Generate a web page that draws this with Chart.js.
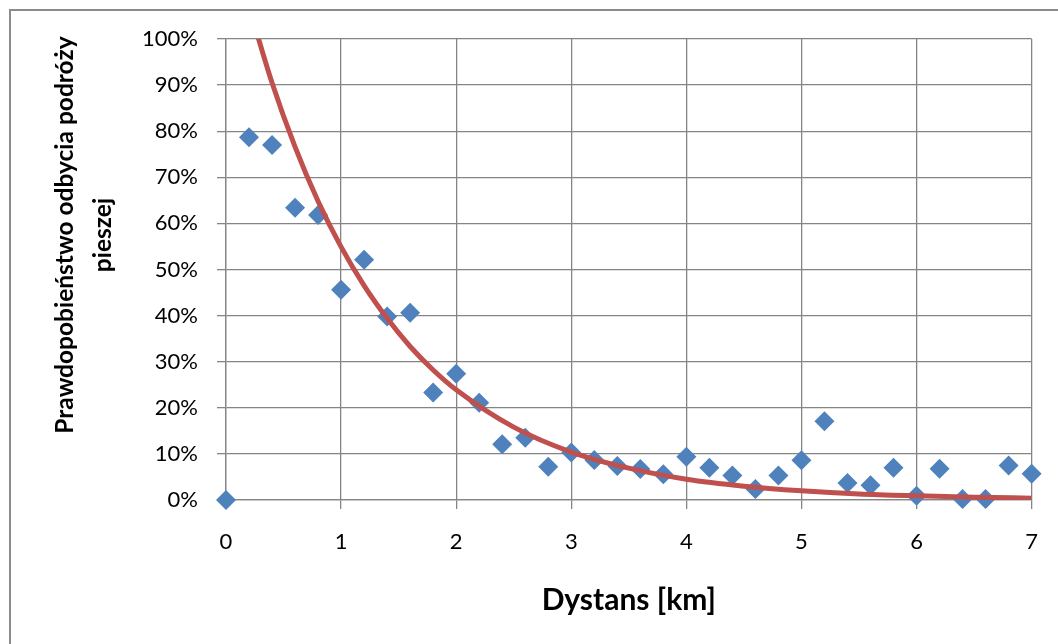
<!DOCTYPE html>
<html>
<head>
<meta charset="utf-8">
<script src="https://cdn.jsdelivr.net/npm/chart.js@4.4.0/dist/chart.umd.min.js"></script>
<style>
    html, body { margin: 0; padding: 0; background: #fff; }
</style>
</head>
<body>
<canvas id="myChart" width="1058" height="644"></canvas>
<script>
// distance [km] and share of trips made on foot [%]
const distances = [0, 0.2, 0.4, 0.6, 0.8, 1, 1.2, 1.4, 1.6, 1.8, 2, 2.2, 2.4, 2.6, 2.8, 3, 3.2, 3.4,
    3.6, 3.8, 4, 4.2, 4.4, 4.6, 4.8, 5, 5.2, 5.4, 5.6, 5.8, 6, 6.2, 6.4, 6.6, 6.8, 7];
const walkShare = [0, 78.7, 77, 63.4, 61.8, 45.6, 52.1, 39.8, 40.6, 23.3, 27.4, 21.1, 12.1, 13.5, 7.2, 10.3, 8.7, 7.4,
    6.7, 5.6, 9.4, 7, 5.3, 2.4, 5.3, 8.6, 17.1, 3.7, 3.2, 7, 0.9, 6.8, 0.2, 0.2, 7.5, 5.7];

// trend line (exponential)
const trendX = [0.2, 0.4, 0.6, 0.8, 1, 1.2, 1.4, 1.6, 1.8, 2, 2.5, 3, 3.5, 4, 4.5, 5, 5.5, 6, 6.5, 7];
const trendY = [107, 90.5, 76.6, 64.8, 54.9, 46.5, 39.4, 33.3, 28.2, 23.9, 15.8, 10.4, 6.9, 4.5, 3.0, 2.0, 1.3, 0.9, 0.6, 0.4];

const xTicks = [0, 1, 2, 3, 4, 5, 6, 7];
const yTicks = [0, 10, 20, 30, 40, 50, 60, 70, 80, 90, 100];

const gridColor = '#858585';

const frame = {
    id: 'frame',
    beforeDraw(chart) {
        const c = chart.ctx;
        c.save();
        c.strokeStyle = '#8c8c8c';
        c.lineWidth = 2;
        c.strokeRect(10, 10, 1200, 800);
        c.restore();
    }
};

// axis titles drawn by hand so they sit where the original ones are
const axisTitles = {
    id: 'axisTitles',
    afterDraw(chart) {
        const c = chart.ctx;
        const area = chart.chartArea;
        c.save();
        c.fillStyle = '#000';
        c.textAlign = 'center';
        c.textBaseline = 'middle';
        c.font = 'bold 30px Lato';
        c.fillText('Dystans [km]', (area.left + area.right) / 2, 600);
        c.translate(0, 235);
        c.rotate(-Math.PI / 2);
        c.font = 'bold 24.5px Lato';
        c.fillText('Prawdopobieństwo odbycia podróży', 0, 65);
        c.fillText('pieszej', 0, 103);
        c.restore();
    }
};

const ctx = document.getElementById('myChart');

new Chart(ctx, {
    type: 'scatter',
    data: {
        datasets: [
            {
                label: 'trend',
                type: 'line',
                data: trendX.map((x, i) => ({ x: x, y: trendY[i] })),
                borderColor: '#C0504D',
                borderWidth: 5,
                pointRadius: 0,
                cubicInterpolationMode: 'monotone',
                fill: false,
                clip: 0,
                order: 0
            },
            {
                label: 'udział',
                data: distances.map((x, i) => ({ x: x, y: walkShare[i] })),
                pointStyle: 'rectRot',
                pointRadius: 10,
                pointHoverRadius: 10,
                backgroundColor: '#4F81BD',
                borderColor: '#4F81BD',
                borderWidth: 0,
                clip: false,
                order: 1
            }
        ]
    },
    options: {
        responsive: false,
        animation: false,
        layout: {
            padding: { top: 39, right: 26, left: 0, bottom: 0 }
        },
        plugins: {
            legend: { display: false },
            tooltip: { enabled: false }
        },
        scales: {
            x: {
                type: 'linear',
                min: 0,
                max: 7,
                afterBuildTicks(s) { s.ticks = xTicks.map(v => ({ value: v })); },
                afterFit(s) { s.height = 144; },
                ticks: {
                    color: '#000',
                    font: { family: 'Lato', size: 22 },
                    padding: 20
                },
                grid: { color: gridColor, lineWidth: 1.3, tickLength: 9 },
                border: { color: gridColor, width: 1.3 }
            },
            y: {
                min: 0,
                max: 100,
                afterBuildTicks(s) { s.ticks = yTicks.map(v => ({ value: v })); },
                afterFit(s) { s.width = 226; },
                ticks: {
                    color: '#000',
                    font: { family: 'Lato', size: 22 },
                    padding: 19,
                    callback: v => v + '%'
                },
                grid: { color: gridColor, lineWidth: 1.3, tickLength: 9 },
                border: { color: gridColor, width: 1.3 }
            }
        }
    },
    plugins: [frame, axisTitles]
});
</script>
</body>
</html>
